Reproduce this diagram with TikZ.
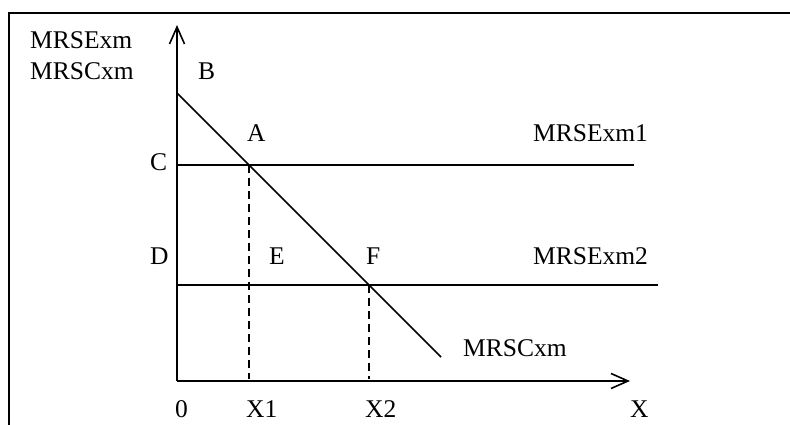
\documentclass[tikz,border=0pt]{standalone}
\usepackage{fontspec}
\setmainfont{Liberation Serif}
\usetikzlibrary{arrows.meta}
\begin{document}
\begin{tikzpicture}[x=1pt,y=-1pt,
  lbl/.style={inner sep=0pt,anchor=base west,font=\fontsize{25.5}{30}\selectfont},
  ln/.style={line width=1.6pt},
  axisarrow/.style={ln,-{Straight Barb[length=17pt,width=15pt,line width=1.6pt]}},
  dsh/.style={line width=1.4pt,dash pattern=on 8pt off 5pt}]
\useasboundingbox (0,0) rectangle (790,425);
% frame
\draw[line width=2pt] (790,13) -- (9,13) -- (9,425);
% points
\coordinate (O) at (177,381);
\coordinate (Ytip) at (177,25);
\coordinate (Xtip) at (630,381);
\coordinate (Bp) at (177,93);
\coordinate (Ap) at (249,165);
\coordinate (Fp) at (369,285);
\coordinate (Endp) at (441,357);
\coordinate (Cp) at (177,165);
\coordinate (Cend) at (634,165);
\coordinate (Dp) at (177,285);
\coordinate (Dend) at (658,285);
\coordinate (X1p) at (249,379);
\coordinate (X2p) at (369,379);
% axes
\draw[axisarrow] (O) -- (Ytip);
\draw[axisarrow] (O) -- (Xtip);
% lines
\draw[ln] (Bp) -- (Endp);
\draw[ln] (Cp) -- (Cend);
\draw[ln] (Dp) -- (Dend);
\draw[dsh] (Ap) -- (X1p);
\draw[dsh] (Fp) -- (X2p);
% labels
\node[lbl] (ylab1) at (30,49) {MRSExm};
\node[lbl] (ylab2) at (30,80) {MRSCxm};
\node[lbl] (B) at (198,80) {B};
\node[lbl] (A) at (247,142) {A};
\node[lbl] (m1) at (533,142) {MRSExm1};
\node[lbl] (C) at (150,171) {C};
\node[lbl] (D) at (150,264) {D};
\node[lbl] (E) at (269,264) {E};
\node[lbl] (F) at (366,264) {F};
\node[lbl] (m2) at (533,264) {MRSExm2};
\node[lbl] (mc) at (463,356) {MRSCxm};
\node[lbl] (zero) at (175,417) {0};
\node[lbl] (X1) at (246,417) {X1};
\node[lbl] (X2) at (365,417) {X2};
\node[lbl] (X) at (630,417) {X};
\end{tikzpicture}
\end{document}
